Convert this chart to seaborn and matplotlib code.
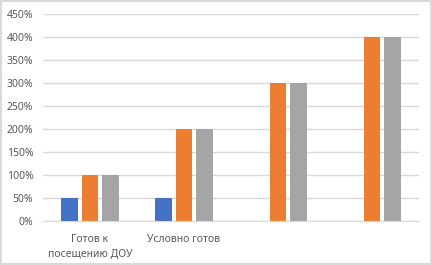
import matplotlib as mpl
import matplotlib.pyplot as plt
import numpy as np
import pandas as pd
import seaborn as sns
from matplotlib.ticker import PercentFormatter

# data
categories = ['Готов к\nпосещению ДОУ', 'Условно готов', ' ', '  ']
series_names = ['Ряд 1', 'Ряд 2', 'Ряд 3']
series_1 = [0.5, 0.5, 0.0, 0.0]
series_2 = [1.0, 2.0, 3.0, 4.0]
series_3 = [1.0, 2.0, 3.0, 4.0]
colors = ['#4472C4', '#ED7D31', '#A5A5A5']

df = pd.DataFrame({
    'category': categories * 3,
    'series': np.repeat(series_names, len(categories)),
    'value': series_1 + series_2 + series_3,
})

sns.set_style('white')
plt.rcParams['font.family'] = ['Noto Sans', 'DejaVu Sans']

fig = plt.figure(figsize=(4.32, 2.65), dpi=100)
fig.patch.set_edgecolor('#d9d9d9')
fig.patch.set_linewidth(1.5)
ax = fig.add_axes([43 / 432, 44 / 265, 376 / 432, 207 / 265])

sns.barplot(data=df, x='category', y='value', hue='series', order=categories,
            hue_order=series_names, palette=colors, width=0.65, gap=0.2,
            saturation=1, linewidth=0, legend=False, ax=ax)

ax.set_ylim(0, 4.5)
ax.set_yticks(np.arange(0, 4.51, 0.5))
ax.yaxis.set_major_formatter(PercentFormatter(1.0, decimals=0))
ax.set_xlim(-0.5, len(categories) - 0.5)
ax.grid(axis='y', color='#d9d9d9', linewidth=1)
ax.set_axisbelow(True)
ax.set_xlabel('')
ax.set_ylabel('')
for side in ['top', 'right', 'left']:
    ax.spines[side].set_visible(False)
ax.spines['bottom'].set_color('#d9d9d9')
ax.tick_params(axis='both', length=0, labelsize=7.5, labelcolor='#595959')
ax.tick_params(axis='x', pad=9)
ax.tick_params(axis='y', pad=7)
for lbl in ax.get_xticklabels():
    lbl.set_linespacing(1.5)

fig.savefig('out.png', dpi=100, facecolor='white', edgecolor=fig.get_edgecolor())
